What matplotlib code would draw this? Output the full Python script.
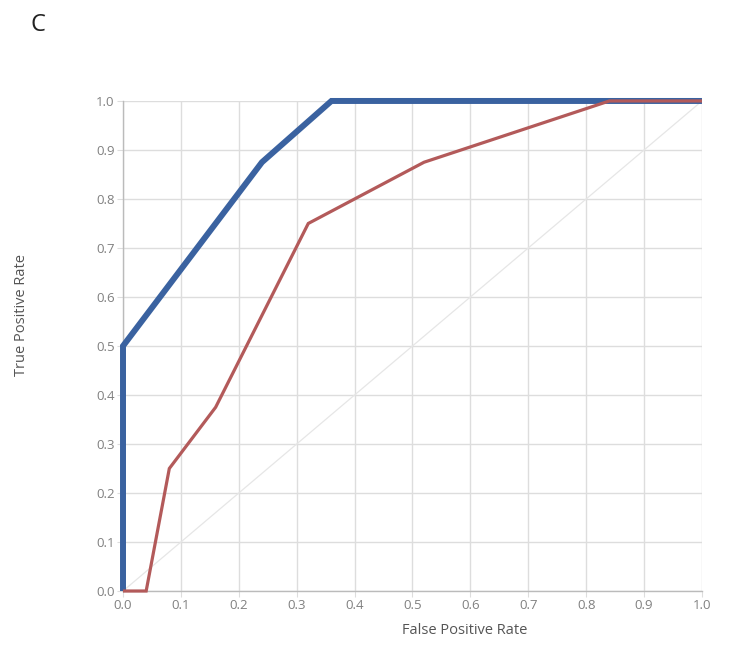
import matplotlib
matplotlib.use("Agg")
import matplotlib.pyplot as plt

plt.rcParams['font.family'] = ['Open Sans', 'DejaVu Sans']

# ROC curves
fpr_a = [0.0, 0.0, 0.24, 0.36, 1.0]
tpr_a = [0.0, 0.5, 0.875, 1.0, 1.0]

fpr_b = [0.0, 0.04, 0.08, 0.16, 0.32, 0.52, 0.84, 1.0]
tpr_b = [0.0, 0.0, 0.25, 0.375, 0.75, 0.875, 1.0, 1.0]

ticks = [0.0, 0.1, 0.2, 0.3, 0.4, 0.5, 0.6, 0.7, 0.8, 0.9, 1.0]
tick_labels = [f"{t:.1f}" for t in ticks]

fig = plt.figure(figsize=(7.3, 6.7), dpi=100)
ax = fig.add_axes([0.1685, 0.1179, 0.7931, 0.7314])

grid_c = '#dddddd'
ax.set_xlim(0, 1)
ax.set_ylim(0, 1)
ax.set_xticks(ticks)
ax.set_yticks(ticks)
ax.set_xticklabels(tick_labels)
ax.set_yticklabels(tick_labels)
ax.grid(True, color=grid_c, linewidth=1.0)
ax.set_axisbelow(True)
for side in ['top', 'right']:
    ax.spines[side].set_visible(False)
for side in ['left', 'bottom']:
    ax.spines[side].set_color('#bbbbbb')
    ax.spines[side].set_linewidth(1.0)
ax.tick_params(axis='both', length=4, color=grid_c, labelcolor='#808080',
               labelsize=9.5, pad=2)

# chance diagonal
ax.plot([0, 1], [0, 1], color='#e6e6e6', linewidth=0.9, zorder=2)

ax.plot(fpr_a, tpr_a, color='#3a62a0', linewidth=4.3, zorder=3,
        solid_joinstyle='miter', solid_capstyle='butt', clip_on=False)
ax.plot(fpr_b, tpr_b, color='#b35a5a', linewidth=2.3, zorder=4,
        solid_joinstyle='miter', solid_capstyle='butt', clip_on=False)

fig.text(465 / 730, 1 - 630 / 670, 'False Positive Rate', ha='center',
         va='center', fontsize=10.5, color='#555555')
fig.text(22 / 730, 1 - 315 / 670, 'True Positive Rate', ha='center', va='center',
         rotation=90, fontsize=10.5, color='#555555')
fig.text(38 / 730, 1 - 25 / 670, 'C', ha='center', va='center', fontsize=17,
         color='#222222')

fig.savefig('out.png', dpi=100, facecolor='white')
